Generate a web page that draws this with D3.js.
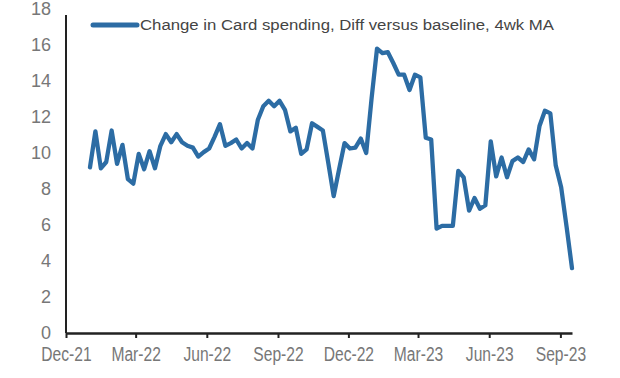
<!DOCTYPE html>
<html>
<head>
<meta charset="utf-8">
<script src="https://cdn.jsdelivr.net/npm/d3@7"></script>
<style>
  body { margin: 0; background: #fff; }
  svg { display: block; }
</style>
</head>
<body>
<div id="chart"></div>
<script>
// weekly series, first week ending 1 Jan 2022
const firstWeek = new Date(2022, 0, 1);
const spending = [
  9.2, 11.2, 9.15, 9.5, 11.25, 9.4, 10.45, 8.55, 8.3, 9.95,
  9.1, 10.1, 9.15, 10.4, 11.05, 10.6, 11.05, 10.6, 10.4, 10.3,
  9.8, 10.05, 10.25, 10.9, 11.6, 10.4, 10.55, 10.75, 10.25, 10.55,
  10.25, 11.85, 12.6, 12.9, 12.6, 12.9, 12.4, 11.2, 11.4, 9.95,
  10.2, 11.65, 11.45, 11.25, 9.45, 7.6, 9.1, 10.55, 10.25, 10.3,
  10.8, 10.0, 13.05, 15.8, 15.55, 15.6, 15.0, 14.35, 14.35, 13.5,
  14.35, 14.2, 10.85, 10.75, 5.8, 5.95, 5.95, 5.95, 9.0, 8.65,
  6.8, 7.5, 6.9, 7.1, 10.65, 8.7, 9.75, 8.65, 9.55, 9.75,
  9.5, 10.2, 9.65, 11.5, 12.35, 12.2, 9.3, 8.1, 5.9, 3.6
];
const xTickDates = [
  new Date(2021, 11, 1), new Date(2022, 2, 1), new Date(2022, 5, 1), new Date(2022, 8, 1),
  new Date(2022, 11, 1), new Date(2023, 2, 1), new Date(2023, 5, 1), new Date(2023, 8, 1)
];
const yTicks = [0, 2, 4, 6, 8, 10, 12, 14, 16, 18];
const legendLabel = "Change in Card spending, Diff versus baseline, 4wk MA";

const data = spending.map((v, i) => ({date: d3.timeDay.offset(firstWeek, 7 * i), value: v}));

const width = 620, height = 378;
const margin = {top: 9, right: 48, bottom: 45, left: 66};

const svg = d3.select("#chart").append("svg")
    .attr("width", width)
    .attr("height", height);

const x = d3.scaleTime()
    .domain([new Date(2021, 11, 1), new Date(2023, 8, 16)])
    .range([margin.left, width - margin.right]);

const y = d3.scaleLinear()
    .domain([0, 18])
    .range([height - margin.bottom, margin.top]);

const lineColor = "#2c6ca4";
const labelFont = "'Liberation Sans', Arial, sans-serif";

// y labels (no tick marks)
svg.append("g")
    .selectAll("text")
    .data(yTicks)
    .join("text")
    .attr("x", 51)
    .attr("y", d => y(d))
    .attr("dy", "0.36em")
    .attr("text-anchor", "end")
    .attr("font-family", labelFont)
    .attr("font-size", 18)
    .attr("fill", "#777")
    .text(d => d);

// y axis line
svg.append("line")
    .attr("x1", margin.left).attr("x2", margin.left)
    .attr("y1", y(18) + 6).attr("y2", y(0))
    .attr("stroke", "#222")
    .attr("stroke-width", 2);

// x axis
const xAxis = d3.axisBottom(x)
    .tickValues(xTickDates)
    .tickFormat(d3.timeFormat("%b-%y"))
    .tickSize(5)
    .tickSizeOuter(0);

const gx = svg.append("g")
    .attr("transform", "translate(0," + y(0) + ")")
    .call(xAxis);

gx.select(".domain")
    .attr("stroke", "#222")
    .attr("stroke-width", 2.5);
gx.selectAll(".tick line")
    .attr("stroke", "#222")
    .attr("stroke-width", 2);
gx.selectAll(".tick text")
    .attr("font-family", labelFont)
    .attr("font-size", 20)
    .attr("fill", "#777")
    .attr("dy", "1.0em")
    .each(function() {
        let w = this.getComputedTextLength();
        d3.select(this)
            .attr("textLength", w * 0.78)
            .attr("lengthAdjust", "spacingAndGlyphs");
    });

// series line
const line = d3.line()
    .x(d => x(d.date))
    .y(d => y(d.value));

svg.append("path")
    .datum(data)
    .attr("d", line)
    .attr("fill", "none")
    .attr("stroke", lineColor)
    .attr("stroke-width", 4.3)
    .attr("stroke-linejoin", "round")
    .attr("stroke-linecap", "round");

// legend
const legend = svg.append("g");
legend.append("line")
    .attr("x1", 93).attr("x2", 137)
    .attr("y1", 25).attr("y2", 25)
    .attr("stroke", lineColor)
    .attr("stroke-width", 5)
    .attr("stroke-linecap", "round");
legend.append("text")
    .attr("x", 140)
    .attr("y", 30)
    .attr("font-family", labelFont)
    .attr("font-size", 14)
    .attr("fill", "#444")
    .attr("textLength", 414)
    .attr("lengthAdjust", "spacingAndGlyphs")
    .text(legendLabel);
</script>
</body>
</html>
